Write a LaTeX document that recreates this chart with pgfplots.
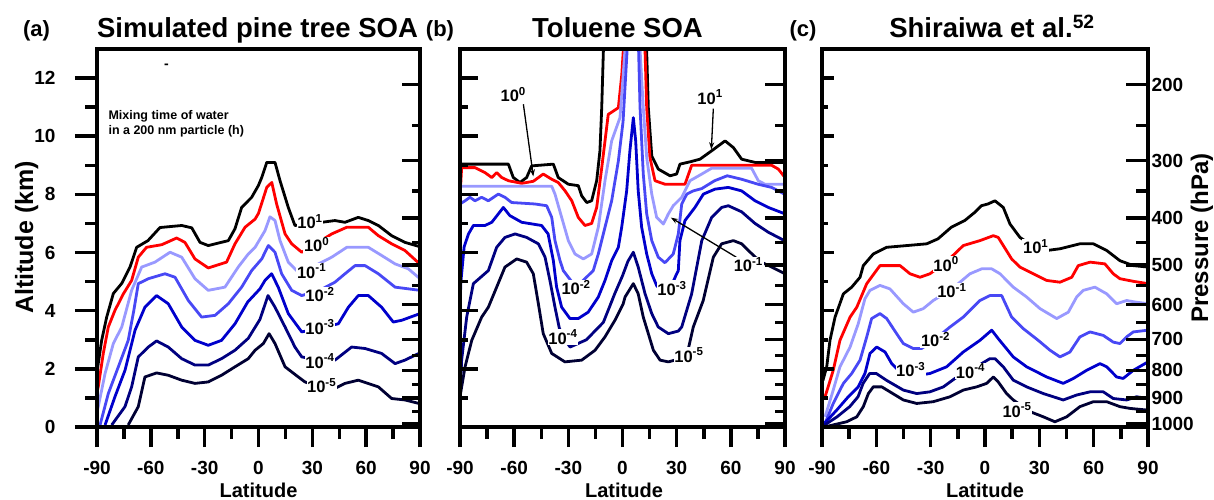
\documentclass[border=0pt]{standalone}
\usepackage{fontspec}
\setmainfont{Liberation Sans}
\usepackage{pgfplots}
\pgfplotsset{compat=1.18}
\usetikzlibrary{arrows.meta}
\definecolor{lb}{HTML}{9999FF}
\definecolor{b2}{HTML}{4848F5}
\definecolor{b3}{HTML}{0000CC}
\definecolor{b4}{HTML}{000080}
\definecolor{b5}{HTML}{000033}
\newcommand{\fs}[1]{\fontsize{#1}{#1}\selectfont\bfseries}
\pgfplotsset{
  base/.style={scale only axis, height=378pt, xmin=-90, xmax=90, ymin=0, ymax=13, anchor=south west,
    axis line style={line width=4pt, black}, tick style={line width=3.5pt, black},
    tick label style={font=\fs{19}}},
  main/.style={base, axis on top, xtick={-90,-60,...,90}, minor xtick={-75,-45,...,75},
    xticklabels={-90,-60,-30,0,30,60,90}, xtick pos=left, xtick align=outside, ytick=\empty,
    major tick length=20pt, minor tick length=12pt, xticklabel style={yshift=-11pt},
    every axis plot/.append style={line width=2.8pt, line join=round, mark=none}},
  lefty/.style={base, hide x axis, axis y line*=left, ytick={0,2,...,12}, minor ytick={1,3,...,11}},
  righty/.style={base, hide x axis, axis y line*=right, ytick align=inside,
    ytick={0.111,0.989,1.949,3.012,4.207,5.574,7.186,9.164,11.775},
    minor ytick={0.540,1.457,2.466,3.591,4.865,6.344,8.117,10.363}, yticklabels={}},
}
\tikzset{lab/.style={fill=white, inner sep=0.6pt, font=\fs{16.5}}}
\newcommand{\lab}[3]{\node[lab] at (axis cs:#1,#2) {10\textsuperscript{#3}};}
\begin{document}
\begin{tikzpicture}
% ================= panel (a) =================
\begin{axis}[main, at={(97pt,72pt)}, width=323pt]
\addplot[black] coordinates {(-90,1.85) (-89.6,2.06) (-87.4,2.98) (-84.6,3.78) (-80.9,4.59) (-76.2,4.94) (-71.6,5.5) (-67.9,6.18) (-61.6,6.41) (-54.9,6.86) (-42.8,6.93) (-37.2,6.85) (-32.6,6.35) (-28,6.24) (-16.8,6.41) (-13.1,6.82) (-9.4,7.55) (-3.8,7.9) (-0.1,8.3) (1.8,8.58) (4.6,9.1) (9.2,9.1) (12,8.47) (16.6,7.55) (20.3,6.93) (28,7.0) (35.2,7.04) (42.6,7.1) (48.2,7.04) (55.6,7.21) (61.2,7.1) (66.8,6.93) (74.2,6.58) (81.6,6.35) (90,6.2)};
\addplot[red] coordinates {(-90,1.2) (-89.3,1.38) (-86.5,2.53) (-83.7,3.44) (-80,4.01) (-75.3,4.58) (-70.7,5.04) (-67,5.84) (-62.4,6.18) (-53.9,6.27) (-45.6,6.5) (-41,6.35) (-35.4,5.78) (-28,5.47) (-17.8,5.67) (-13.1,6.3) (-7.5,6.87) (-1.9,7.15) (0,7.35) (4.6,8.24) (7.4,8.41) (10.1,7.67) (14.8,6.64) (18.5,6.3) (24.1,6.01) (32,6.3) (40.8,6.64) (49.2,6.87) (61.2,6.87) (66.8,6.58) (74.2,6.3) (81.6,6.07) (90,5.6)};
\addplot[lb] coordinates {(-90,0.5) (-89.3,0.7) (-85.5,1.84) (-80.9,2.87) (-76.2,3.44) (-70.7,4.7) (-65.1,5.5) (-57.7,5.67) (-49.3,6.01) (-42.8,5.84) (-35.4,5.1) (-28,4.7) (-18.7,4.81) (-11.3,5.5) (-5.7,5.95) (-1.9,6.18) (3.6,6.75) (6.4,7.23) (9.2,7.1) (12,6.41) (16.6,5.67) (21.2,5.38) (30,5.5) (40.8,5.84) (49.2,6.18) (61.2,6.18) (68.6,5.9) (76.1,5.61) (83.5,5.44) (90,5.1)};
\addplot[b2] coordinates {(-88.3,0.07) (-83.7,1.15) (-78.1,2.07) (-72.6,2.98) (-69.5,4.0) (-67,4.93) (-61.4,5.1) (-52.1,5.27) (-46.5,5.15) (-39.1,4.35) (-31.7,3.78) (-24.2,3.84) (-16.8,4.24) (-9.4,4.81) (-3.8,5.38) (1.8,5.78) (5.5,6.24) (9.2,6.01) (12.9,5.27) (18.5,4.7) (24.1,4.52) (34,4.7) (42.6,4.98) (48.2,5.27) (53.8,5.55) (59.4,5.55) (66.8,5.27) (76.1,4.81) (90,4.7)};
\addplot[b3] coordinates {(-85.5,0.07) (-80,1.04) (-74.4,1.95) (-68.8,3.33) (-63.3,4.12) (-56.8,4.52) (-50.3,4.24) (-42.8,3.44) (-35.4,2.98) (-28,2.81) (-20.6,2.98) (-13.1,3.55) (-6,4.3) (0.8,4.75) (3.6,5.04) (7.3,5.27) (11,4.81) (16.6,3.9) (24.1,3.27) (34,3.4) (44.5,3.55) (50.1,4.12) (55.6,4.52) (61.2,4.52) (68.6,4.12) (75.1,3.61) (79.8,3.67) (90,3.9)};
\addplot[b4] coordinates {(-81.8,0.07) (-74.4,0.7) (-70.7,1.38) (-67,2.41) (-61.4,2.75) (-56.8,2.96) (-50.3,2.75) (-42.8,2.35) (-35.4,2.13) (-28,2.13) (-20.6,2.35) (-13.1,2.64) (-5.7,3.05) (0.8,3.7) (5.3,4.52) (9.2,4.12) (14.8,3.44) (20.3,2.75) (24.1,2.41) (34,2.3) (42.6,2.3) (51.9,2.75) (59.4,2.7) (68.6,2.53) (76.1,2.18) (81.6,2.3) (90,2.55)};
\addplot[b5] coordinates {(-72.6,0.07) (-67,0.7) (-63.3,1.72) (-56.8,1.86) (-50.3,1.78) (-42.8,1.61) (-35.4,1.5) (-28,1.55) (-20.6,1.78) (-13.1,2.07) (-5.7,2.35) (-1.9,2.64) (2.7,2.87) (5.9,3.21) (9.2,2.87) (14.8,2.07) (22.2,1.72) (25.9,1.55) (33,1.4) (40.8,1.27) (48.2,1.5) (55.6,1.61) (66.8,1.38) (74.2,0.98) (81.6,0.93) (90,0.8)};
\lab{28.7}{7.07}{1}
\lab{32.4}{6.27}{0}
\lab{29.6}{5.36}{-1}
\lab{34.3}{4.56}{-2}
\lab{34.3}{3.44}{-3}
\lab{34.3}{2.27}{-4}
\lab{35.2}{1.42}{-5}
\end{axis}
\begin{axis}[lefty, at={(97pt,72pt)}, width=323pt, ytick align=outside, major tick length=22pt, minor tick length=12pt,
  yticklabels={0,2,4,6,8,10,12}, yticklabel style={xshift=-16pt}]
\end{axis}
\begin{axis}[righty, at={(97pt,72pt)}, width=323pt, major tick length=18pt, minor tick length=8pt]
\end{axis}
% ================= panel (b) =================
\begin{axis}[main, at={(460pt,72pt)}, width=325pt]
\addplot[black] coordinates {(-90,9.04) (-63.2,9.04) (-60.5,8.58) (-56.8,8.41) (-53.1,8.58) (-50.3,8.98) (-38.3,9.04) (-35.6,8.58) (-30,8.35) (-24.5,8.3) (-22.6,7.95) (-19.8,7.72) (-17.1,7.78) (-14.3,8.47) (-12.5,9.5) (-11.5,11) (-10.6,12.92) (-10.3,14) (13.2,14) (13.4,12.9) (14.3,10.98) (16.2,9.32) (19.8,8.87) (26.3,8.64) (30,8.7) (31.8,9.04) (37.4,9.12) (42.9,9.21) (49.4,9.5) (56.8,9.84) (61.4,9.61) (66,9.21) (73.4,9.1) (90,9.1)};
\addplot[red] coordinates {(-89.6,8.35) (-89.1,8.92) (-81.7,8.92) (-76.2,8.75) (-72.4,8.58) (-69.7,8.75) (-66.9,8.58) (-63.2,8.47) (-55.8,8.38) (-49.4,8.45) (-43.9,8.7) (-39.2,8.52) (-35.6,8.41) (-31.8,8.12) (-28.1,7.78) (-24.5,7.21) (-20.8,6.93) (-17.1,7.0) (-14.3,7.55) (-11.5,8.92) (-7.9,10.75) (-2.3,10.98) (-0.4,12.12) (0.4,12.92) (0.6,14) (12,14) (12.5,12.9) (13.4,10.98) (15.2,9.27) (18,8.47) (23.5,8.35) (34.6,8.35) (38.3,9.0) (43.9,9.0) (82.6,9.0) (86.3,8.87) (90,8.58)};
\addplot[lb] coordinates {(-90,8.28) (-39.2,8.28) (-37.4,8.01) (-33.7,7.21) (-30,6.41) (-26.3,5.95) (-21.7,5.78) (-17.1,5.95) (-13.4,6.87) (-9.7,8.47) (-6,9.84) (-1.4,10.64) (0.4,12.12) (1.4,13) (1.6,14) (9.5,14) (9.7,13) (11.5,10.98) (13.4,9.27) (16.2,8.01) (18.9,7.21) (22.6,6.98) (25.4,7.33) (28.1,7.61) (32.8,7.9) (37.4,8.47) (43.9,8.7) (49.4,8.9) (71.5,8.9) (75.2,8.47) (78.9,8.35) (90,8.35)};
\addplot[b2] coordinates {(-90,7.67) (-87.2,7.78) (-84.5,7.9) (-81.7,7.78) (-78,7.9) (-74.3,7.78) (-68.8,8.01) (-65.1,7.9) (-61.4,7.72) (-48.5,7.67) (-42,7.61) (-39.2,7.21) (-37.4,6.41) (-34.6,5.72) (-32.8,5.38) (-25.7,4.8) (-16.2,5.38) (-13.4,5.95) (-9.7,6.87) (-6,7.78) (-2.3,9.15) (0.3,10.5) (2.5,12.9) (3,14) (8.5,14) (9.7,11) (11.5,8.7) (13.4,7.33) (16.2,6.41) (19.8,5.84) (23.5,5.65) (28.1,5.95) (30.9,6.64) (32.8,7.67) (35.6,8.01) (39.2,8.12) (43.9,8.2) (51,8.47) (58,8.64) (66,8.52) (75,8.35) (82.6,8.24) (90,8.0)};
\addplot[b3] coordinates {(-90,4.2) (-89.5,5.0) (-87.7,6.2) (-85.3,6.64) (-82.6,6.93) (-76.2,6.93) (-72.4,7.04) (-66,7.55) (-62.4,7.27) (-55.8,7.04) (-44.8,6.93) (-41.2,6.64) (-38.3,5.72) (-36.5,4.81) (-33.7,4.12) (-29.1,3.73) (-24.5,3.73) (-19,3.95) (-13.4,4.47) (-9.7,5.04) (-6,5.72) (-2.3,6.18) (-0.45,6.87) (2.3,8.12) (4.1,9.5) (6,10.64) (7.3,9.84) (8.7,8.12) (10.6,6.87) (13.4,5.95) (16.2,5.27) (19,4.85) (23,4.65) (27,4.85) (29.5,5.2) (30.9,5.38) (31.8,6.41) (34.6,7.1) (40.1,7.55) (44.8,8.01) (51.2,8.18) (58.6,8.24) (66,8.12) (73.4,7.78) (80.8,7.55) (90,7.33)};
\addplot[b4] coordinates {(-90,1.0) (-89.1,2.3) (-86.3,3.78) (-82.6,4.93) (-74.3,5.38) (-69.7,6.18) (-65.1,6.52) (-59.5,6.64) (-53.1,6.52) (-46.6,6.3) (-42.9,5.84) (-40.2,5.04) (-37.4,4.12) (-35,3.4) (-32,3.0) (-29,2.75) (-20,3.0) (-10.6,3.6) (-4.2,4.6) (0,5.2) (3,5.7) (6,6.01) (8.7,5.5) (12.5,4.58) (16.2,3.9) (19.8,3.44) (25.4,3.21) (30.9,3.3) (32.8,3.44) (38.3,4.58) (43.9,6.41) (49.4,7.21) (54.9,7.55) (58.6,7.61) (66,7.4) (73.4,7.0) (80.7,6.7) (90,6.4)};
\addplot[b5] coordinates {(-90,1.04) (-87.2,2.07) (-83.5,2.98) (-78,3.78) (-74.3,4.12) (-69.7,4.81) (-65.1,5.5) (-58.6,5.78) (-53.1,5.67) (-49.4,5.27) (-46.6,4.24) (-43.9,3.21) (-39.2,2.53) (-31.9,2.24) (-22.6,2.3) (-15.2,2.64) (-9.7,3.1) (-4.2,3.67) (0.4,4.24) (1.4,4.47) (6,4.93) (8.7,4.58) (11.5,3.78) (14.3,3.21) (17.1,2.64) (20.8,2.3) (25.4,2.24) (32,2.35) (36.5,2.7) (39.2,3.44) (44.7,4.35) (50.3,5.84) (54.9,6.3) (61.4,6.41) (66,6.3) (69.7,6.07) (76,5.7) (82.6,5.5) (90,5.27)};
\node[lab] at (axis cs:-60.5,11.44) {10\textsuperscript{0}};
\draw[-{Stealth[length=7pt,width=5pt]}, line width=1.3pt] (axis cs:-54.9,11.1) -- (axis cs:-49.4,8.62);
\node[lab] at (axis cs:48.5,11.35) {10\textsuperscript{1}};
\draw[-{Stealth[length=7pt,width=5pt]}, line width=1.3pt] (axis cs:50.3,10.95) -- (axis cs:49.2,9.55);
\draw[-{Stealth[length=7pt,width=5pt]}, line width=1.3pt] (axis cs:63,5.84) -- (axis cs:26.8,7.2);
\lab{69.7}{5.59}{-1}
\lab{-25.7}{4.8}{-2}
\lab{27.4}{4.77}{-3}
\lab{-33}{3.09}{-4}
\lab{36.8}{2.47}{-5}
\end{axis}
\begin{axis}[lefty, at={(460pt,72pt)}, width=325pt, ytick align=inside, major tick length=18pt, minor tick length=8pt, yticklabels={}]
\end{axis}
\begin{axis}[righty, at={(460pt,72pt)}, width=325pt, major tick length=20pt, minor tick length=10pt]
\end{axis}
% ================= panel (c) =================
\begin{axis}[main, at={(822pt,72pt)}, width=326pt]
\addplot[black] coordinates {(-89.5,1.6) (-87.4,2.07) (-85.6,2.98) (-82.8,3.78) (-78.2,4.58) (-73.6,4.81) (-69,5.15) (-67.2,5.55) (-61.7,5.95) (-54.3,6.18) (-43.2,6.24) (-32.2,6.3) (-26,6.47) (-18.6,6.87) (-11.2,7.1) (-5.7,7.38) (-2,7.61) (1.6,7.67) (5.5,7.78) (10.1,7.55) (13.8,6.98) (19.3,6.52) (27,6.2) (34.1,6.07) (41.4,6.13) (52.4,6.3) (59.8,6.3) (67.2,6.07) (74.5,5.72) (81.9,5.55) (90,5.5)};
\addplot[red] coordinates {(-88.3,1.04) (-83.8,1.95) (-80.1,2.98) (-74.5,3.78) (-70.8,4.12) (-65.3,4.93) (-58,5.55) (-46.9,5.55) (-41.4,5.27) (-35.9,5.15) (-30.4,5.27) (-21,5.7) (-12,6.24) (-2.8,6.41) (4.6,6.58) (7.3,6.52) (14.7,5.78) (19.3,5.5) (26.7,5.27) (34.1,5.04) (41.4,4.98) (47.9,5.15) (51.5,5.55) (58,5.67) (66.2,5.61) (70.8,5.27) (74.5,5.1) (81.9,5.01) (90,4.93)};
\addplot[lb] coordinates {(-88.3,0.35) (-83.8,1.27) (-80.1,2.07) (-74.5,2.75) (-70,3.55) (-66.3,4.41) (-63.5,4.7) (-58,4.87) (-52.5,4.75) (-45.1,4.24) (-39.6,3.95) (-34.1,4.07) (-28.6,4.35) (-18.2,4.75) (-8.3,5.27) (-1.8,5.44) (3.7,5.44) (8.3,5.27) (15.6,4.81) (23,4.47) (30.4,4.07) (39.6,3.73) (46,3.95) (50.6,4.47) (54.3,4.7) (60.7,4.81) (67.2,4.58) (72.7,4.24) (78.2,4.35) (82.8,4.3) (90,4.24)};
\addplot[b2] coordinates {(-88.3,0.13) (-83.8,0.81) (-78.2,1.5) (-73.6,1.84) (-69,2.3) (-65.3,3.1) (-62.6,3.73) (-58,3.9) (-54.3,3.73) (-48.8,3.21) (-45.1,2.87) (-39.6,2.7) (-35,2.7) (-27,3.05) (-19.3,3.44) (-12,3.78) (-2.8,4.35) (2.7,4.52) (9.2,4.52) (14.7,3.78) (21.2,3.38) (29.4,2.98) (35.9,2.64) (41.4,2.41) (46.9,2.58) (52.4,3.1) (58,3.27) (65.3,3.15) (70.8,2.92) (74.5,2.87) (78.2,3.1) (81.9,3.27) (90,3.33)};
\addplot[b3] coordinates {(-89.5,0.07) (-81.9,0.58) (-75.5,1.04) (-70,1.38) (-66.3,1.84) (-63.5,2.53) (-59.8,2.75) (-55.2,2.58) (-51.5,2.18) (-48.8,2.01) (-42.5,1.9) (-36.8,1.78) (-30.4,1.84) (-21.2,2.07) (-12,2.58) (-2.8,2.98) (3.7,3.33) (7.3,3.04) (15.6,2.41) (23,2.07) (34.1,1.72) (43.2,1.5) (48.8,1.67) (56.1,1.95) (63.5,2.18) (67.2,2.07) (72.7,1.72) (76.3,1.67) (81.9,1.95) (90,2.24)};
\addplot[b4] coordinates {(-89.5,0.03) (-81.7,0.35) (-74.7,0.7) (-70.1,1.04) (-67.3,1.5) (-63.7,1.84) (-60,1.84) (-54.5,1.61) (-45.1,1.27) (-37.7,1.15) (-30.4,1.21) (-23,1.38) (-16.6,1.67) (-8,1.95) (2.7,2.35) (5.5,2.35) (10.1,2.07) (15.6,1.61) (23,1.38) (32.2,1.15) (43.2,0.93) (50.6,1.1) (58,1.21) (65.3,1.21) (70.8,0.98) (78.2,0.93) (83.7,1.04) (90,0.98)};
\addplot[b5] coordinates {(-87.4,0.02) (-76.4,0.18) (-70.8,0.35) (-67.2,0.7) (-64.4,1.15) (-61.7,1.38) (-57,1.38) (-52.5,1.21) (-45.1,0.93) (-37.7,0.81) (-28.6,0.87) (-19.3,1.04) (-12,1.27) (-4.6,1.38) (0.9,1.5) (4.6,1.72) (7.3,1.55) (11.9,1.15) (15.6,0.93) (24.8,0.53) (32.2,0.35) (38.6,0.18) (45.1,0.35) (52.4,0.7) (59.8,0.87) (67.2,0.87) (74.5,0.7) (80,0.64) (90,0.58)};
\lab{28}{6.2}{1}
\lab{-21.5}{5.6}{0}
\lab{-18.3}{4.7}{-1}
\lab{-27.3}{3.0}{-2}
\lab{-41}{1.98}{-3}
\lab{-8}{1.92}{-4}
\lab{17.7}{0.58}{-5}
\end{axis}
\begin{axis}[lefty, at={(822pt,72pt)}, width=326pt, ytick align=inside, major tick length=12pt, minor tick length=6pt, yticklabels={}]
\end{axis}
\begin{axis}[righty, at={(822pt,72pt)}, width=326pt, major tick length=22pt, minor tick length=12pt,
  yticklabels={1000,900,800,700,600,500,400,300,200}, yticklabel style={xshift=0pt}]
\end{axis}
% ================= texts =================
\node[anchor=base, font=\fs{22}] at (36.5pt,462pt) {(a)};
\node[anchor=base, font=\fs{22}] at (440pt,462pt) {(b)};
\node[anchor=base, font=\fs{22}] at (803pt,462pt) {(c)};
\node[anchor=base, font=\fs{27.5}] at (257.5pt,461pt) {Simulated pine tree SOA};
\node[anchor=base, font=\fs{27.5}] at (617.5pt,461pt) {Toluene SOA};
\node[anchor=base, font=\fs{27.5}] at (992pt,461pt) {Shiraiwa et al.\textsuperscript{52}};
\node[anchor=base, font=\fs{20}] at (258.5pt,2pt) {Latitude};
\node[anchor=base, font=\fs{20}] at (624pt,2pt) {Latitude};
\node[anchor=base, font=\fs{20}] at (985pt,2pt) {Latitude};
\node[anchor=base, rotate=90, font=\fs{25}] at (33pt,261.5pt) {Altitude (km)};
\node[anchor=base, rotate=90, font=\fs{24}] at (1208pt,261pt) {Pressure (hPa)};
\node[anchor=base west, font=\fs{12.5}] at (105pt,379pt) {Mixing time of water};
\node[anchor=base west, font=\fs{12.5}] at (105pt,365pt) {in a 200 nm particle (h)};
\node[font=\fs{14}] at (166.5pt,433pt) {-};
\pgfresetboundingbox
\path[use as bounding box] (0,0) rectangle (1214pt,499pt);
\end{tikzpicture}
\end{document}
